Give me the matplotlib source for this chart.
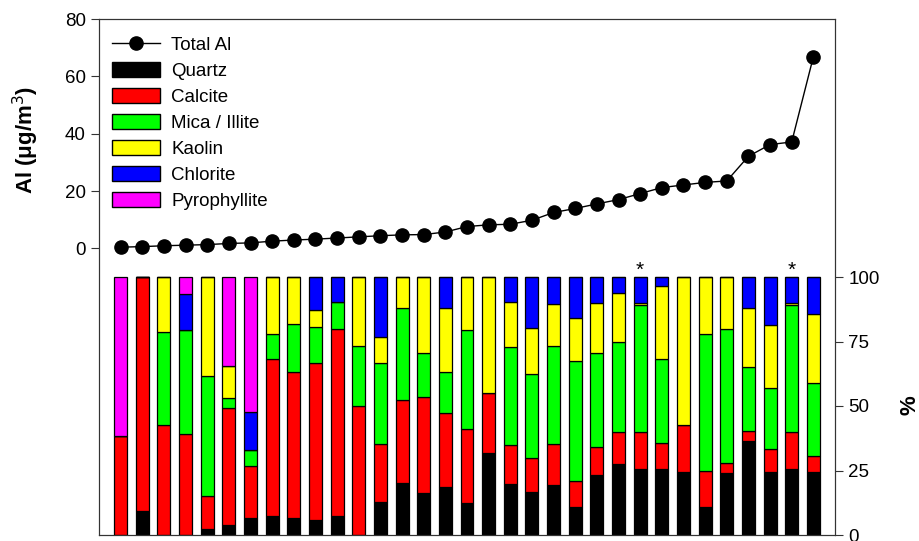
import matplotlib
matplotlib.use("Agg")
import matplotlib.pyplot as plt
import matplotlib.patches as mpatches
from matplotlib.lines import Line2D
import numpy as np

plt.rcParams['font.family'] = ['Liberation Sans', 'DejaVu Sans']

# total Al per sample (ug/m3), sorted ascending
total_al = [0.4, 0.6, 0.9, 1.1, 1.3, 1.7, 1.9, 2.5, 2.9, 3.2, 3.6, 4.0, 4.4, 4.7,
            4.8, 5.7, 7.6, 8.2, 8.4, 9.8, 12.5, 13.9, 15.5, 17.0, 19.1, 21.2,
            22.1, 23.0, 23.5, 32.1, 36.2, 37.1, 66.8]

# mineral composition (%) per sample
quartz = [0, 9.4, 0, 0, 2.2, 3.8, 6.4, 7.4, 6.5, 6.0, 7.4, 0, 12.6, 20.1, 16.2,
          18.6, 12.5, 31.6, 19.6, 16.8, 19.4, 10.8, 23.4, 27.7, 25.6, 25.6,
          24.4, 11.0, 23.9, 36.6, 24.3, 25.6, 24.3]
calcite = [38.3, 90.6, 42.5, 39.0, 12.9, 45.3, 20.5, 60.7, 56.5, 60.5, 72.5, 50.1,
           22.7, 32.1, 37.2, 28.8, 28.5, 23.3, 15.3, 12.9, 15.9, 10.0, 10.6, 12.2,
           14.3, 10.1, 18.1, 13.7, 4.0, 3.9, 9.2, 14.3, 6.2]
mica = [0, 0, 36.2, 40.4, 46.5, 3.9, 6.2, 9.8, 18.8, 14.0, 10.4, 23.0, 31.3, 35.9,
        17.0, 15.7, 38.5, 0, 37.8, 32.8, 37.9, 46.5, 36.5, 35.0, 49.1, 32.5, 0,
        53.2, 51.8, 24.7, 23.4, 49.1, 28.3]
kaolin = [0, 0, 21.3, 0, 38.4, 12.6, 0, 22.1, 18.2, 6.9, 0, 26.9, 10.0, 11.9, 29.6,
          25.0, 20.5, 45.1, 17.7, 17.8, 16.3, 16.7, 19.4, 19.0, 1.1, 28.2, 57.5,
          22.1, 20.3, 22.9, 24.4, 1.1, 26.7]
chlorite = [0, 0, 0, 14.1, 0, 0, 14.6, 0, 0, 12.6, 9.7, 0, 23.4, 0, 0, 11.9, 0, 0,
            9.6, 19.7, 10.5, 16.0, 10.1, 6.1, 9.9, 3.6, 0, 0, 0, 11.9, 18.7, 9.9,
            14.5]
pyrophyllite = [61.7, 0, 0, 6.5, 0, 34.4, 52.3, 0, 0, 0, 0, 0, 0, 0, 0, 0, 0, 0, 0,
                0, 0, 0, 0, 0, 0, 0, 0, 0, 0, 0, 0, 0, 0]

minerals = ['Quartz', 'Calcite', 'Mica / Illite', 'Kaolin', 'Chlorite', 'Pyrophyllite']
colors = ['black', '#ff0000', '#00ff00', '#ffff00', '#0000ff', '#ff00ff']
starred = [24, 31]

x = np.arange(len(total_al))

fig = plt.figure(figsize=(9.2, 5.41), dpi=100)
ax = fig.add_axes([99 / 920, 6 / 541, 736 / 920, 516 / 541])
ax2 = ax.twinx()

# stacked composition bars on the right axis
bottom = np.zeros(len(x))
for vals, col in zip([quartz, calcite, mica, kaolin, chlorite, pyrophyllite], colors):
    vals = np.array(vals)
    ax2.bar(x, vals, 0.6, bottom=bottom, color=col, edgecolor='black', linewidth=0.9)
    bottom += vals

for i in starred:
    ax2.text(x[i], 99.0, '*', ha='center', va='bottom', fontsize=15)

ax2.set_ylim(0, 200)
ax2.set_yticks([0, 25, 50, 75, 100])
ax2.set_ylabel('%', fontsize=16, fontweight='bold')
ax2.yaxis.set_label_coords(1.088, 0.252)

# total Al line on the left axis
ax.plot(x, total_al, color='black', lw=1, marker='o', ms=9.5, zorder=5)
ax.set_ylim(-100, 80)
ax.set_yticks([0, 20, 40, 60, 80])
ax.set_xlim(-1, len(x))
ax.set_xticks([])
ax.set_ylabel('Al (μg/m$^3$)', fontsize=16, fontweight='bold')
ax.yaxis.set_label_coords(-0.079, 0.765)
ax.set_zorder(ax2.get_zorder() + 1)
ax.patch.set_visible(False)

for a in (ax, ax2):
    a.tick_params(direction='out', length=6, labelsize=13.5, color='#333333')
    for s in a.spines.values():
        s.set_color('#333333')

handles = [Line2D([], [], color='black', lw=1, marker='o', ms=9.5)]
handles += [mpatches.Patch(facecolor=c, edgecolor='black', label=m) for m, c in zip(minerals, colors)]
ax.legend(handles=handles, labels=['Total Al'] + minerals, loc='upper left', frameon=False,
          fontsize=13.5, labelspacing=0.43, handlelength=2.55, handleheight=0.85,
          handletextpad=0.6, borderaxespad=0.5, bbox_to_anchor=(-0.005, 1.0))

fig.savefig('out.png', dpi=100)
